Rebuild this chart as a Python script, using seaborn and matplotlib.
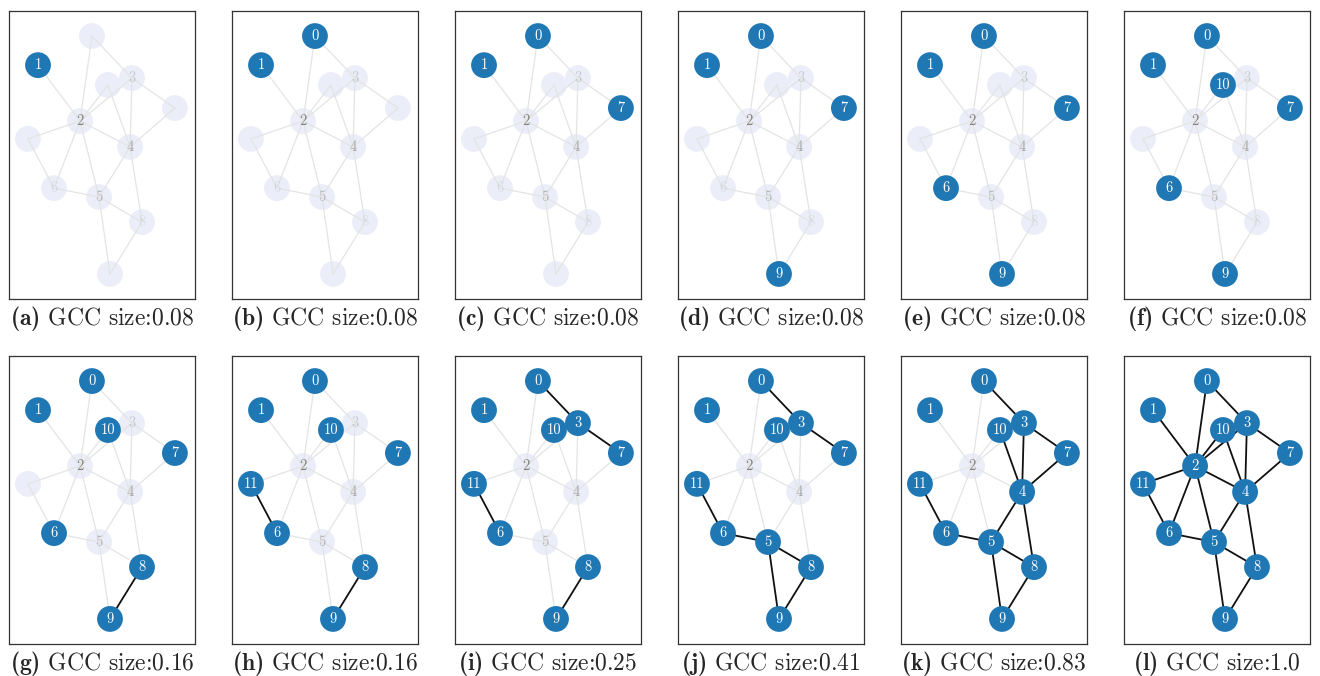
import matplotlib
matplotlib.use("Agg")
import matplotlib.pyplot as plt
import numpy as np
import pandas as pd
import seaborn as sns

# ---- network data -------------------------------------------------------
node_ids = list(range(12))
# layout coordinates (x to the right, y measured downward from the top)
node_x = [0.446, 0.156, 0.382, 0.661, 0.651, 0.484, 0.242, 0.892, 0.715, 0.543, 0.532, 0.102]
node_y_down = [0.087, 0.188, 0.382, 0.233, 0.472, 0.646, 0.615, 0.337, 0.733, 0.913, 0.257, 0.444]

edge_src = [0, 0, 1, 2, 2, 2, 2, 2, 2, 3, 3, 10, 7, 4, 4, 11, 6, 5, 5, 8]
edge_dst = [2, 3, 2, 10, 3, 11, 4, 6, 5, 7, 4, 4, 4, 5, 8, 6, 5, 8, 9, 9]

# order in which nodes get switched on, one per panel
activation_order = [1, 0, 7, 9, 6, 10, 8, 11, 3, 5, 4, 2]
panel_letters = ["a", "b", "c", "d", "e", "f", "g", "h", "i", "j", "k", "l"]
gcc_sizes = [0.08, 0.08, 0.08, 0.08, 0.08, 0.08, 0.16, 0.16, 0.25, 0.41, 0.83, 1.0]

# ---- styling ------------------------------------------------------------
sns.set_theme(style="white")
plt.rcParams["mathtext.fontset"] = "custom"
plt.rcParams["mathtext.rm"] = "cmr10"
plt.rcParams["mathtext.bf"] = "cmb10"
plt.rcParams["mathtext.it"] = "cmmi10"
plt.rcParams["font.family"] = ["cmr10", "DejaVu Serif"]
plt.rcParams["axes.unicode_minus"] = False

ACTIVE = "#1f77b4"
INACTIVE = "#ebedf8"
EDGE_OFF = "#e4e4e4"
EDGE_ON = "#111111"

nodes = pd.DataFrame({"node": node_ids, "x": node_x,
                      "y": [1 - v for v in node_y_down]})
degree = np.bincount(edge_src + edge_dst, minlength=len(node_ids))

W, H = 1320, 676
fig = plt.figure(figsize=(W / 100, H / 100), dpi=100)

col_left = [9, 232, 455, 678, 901, 1124]
row_top = [11, 356]
box_w, box_h = 186, 288

for k in range(12):
    r, c = divmod(k, 6)
    left = col_left[c]
    top = row_top[r]
    ax = fig.add_axes([left / W, 1 - (top + box_h) / H, box_w / W, box_h / H])
    active = set(activation_order[: k + 1])

    # edges
    for s, d in zip(edge_src, edge_dst):
        on = s in active and d in active
        ax.plot([nodes.x[s], nodes.x[d]], [nodes.y[s], nodes.y[d]],
                color=EDGE_ON if on else EDGE_OFF,
                lw=1.3 if on else 0.9, zorder=2 if on else 1,
                solid_capstyle="round")

    is_on = nodes.node.isin(active)
    off_nodes = nodes[~is_on]
    on_nodes = nodes[is_on]
    if len(off_nodes):
        sns.scatterplot(data=off_nodes, x="x", y="y", ax=ax, s=345,
                        color=INACTIVE, edgecolor="none", zorder=0.5,
                        legend=False)
    sns.scatterplot(data=on_nodes, x="x", y="y", ax=ax, s=345,
                    color=ACTIVE, edgecolor="none", zorder=3, legend=False)

    for _, row in nodes.iterrows():
        n = int(row.node)
        if n in active:
            ax.text(row.x, row.y, str(n), color="white", fontsize=10.5,
                    ha="center", va="center", zorder=4)
        else:
            a = float(np.clip((degree[n] - 2) * 0.13, 0, 1))
            if a > 0:
                ax.text(row.x, row.y, str(n), color="#666666", alpha=a,
                        fontsize=10.5, ha="center", va="center", zorder=4)

    ax.set_xlim(0, 1)
    ax.set_ylim(0, 1)
    ax.set_xticks([])
    ax.set_yticks([])
    ax.set_xlabel("")
    ax.set_ylabel("")
    for sp in ax.spines.values():
        sp.set_visible(True)
        sp.set_color("#333333")
        sp.set_linewidth(0.9)

    fig.text((left + box_w / 2) / W, 1 - (top + box_h + 19) / H,
             r"$\mathbf{(" + panel_letters[k] + r")}$" + f" GCC size:{gcc_sizes[k]}",
             ha="center", va="center", fontsize=17)

fig.savefig("out.png", dpi=100, facecolor="white")
